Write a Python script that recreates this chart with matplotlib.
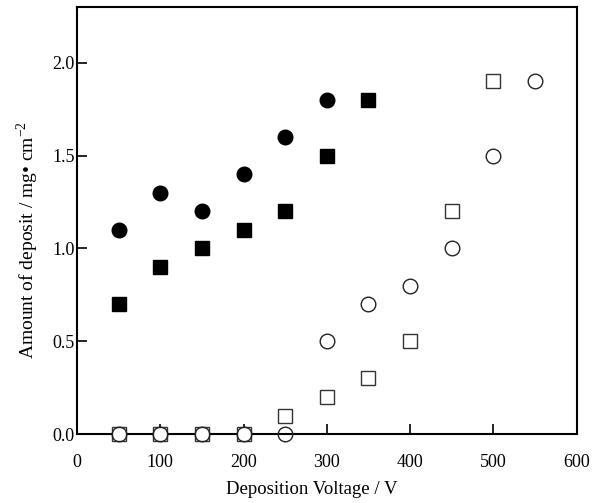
import matplotlib
matplotlib.use("Agg")
import matplotlib.pyplot as plt
from matplotlib.ticker import FormatStrFormatter

plt.rcParams['font.family'] = ['Liberation Serif', 'DejaVu Serif']
plt.rcParams['mathtext.fontset'] = 'custom'
plt.rcParams['mathtext.rm'] = 'Liberation Serif'

# filled circles
fc_x = [50, 100, 150, 200, 250, 300]
fc_y = [1.1, 1.3, 1.2, 1.4, 1.6, 1.8]
# filled squares
fs_x = [50, 100, 150, 200, 250, 300, 350]
fs_y = [0.7, 0.9, 1.0, 1.1, 1.2, 1.5, 1.8]
# open squares
os_x = [50, 100, 150, 200, 250, 300, 350, 400, 450, 500]
os_y = [0, 0, 0, 0, 0.1, 0.2, 0.3, 0.5, 1.2, 1.9]
# open circles
oc_x = [50, 100, 150, 200, 250, 300, 350, 400, 450, 500, 550]
oc_y = [0, 0, 0, 0, 0, 0.5, 0.7, 0.8, 1.0, 1.5, 1.9]

fig = plt.figure(figsize=(5.97, 5.03), dpi=100)
ax = fig.add_axes([0.129, 0.137, 0.837, 0.849])

ax.plot(os_x, os_y, 's', ms=10, mfc='white', mec='#333333', mew=1.0, ls='none', clip_on=False, zorder=3)
ax.plot(oc_x, oc_y, 'o', ms=10.5, mfc='none', mec='#222222', mew=1.0, ls='none', clip_on=False, zorder=4)
ax.plot(fs_x, fs_y, 's', ms=10, color='black', ls='none', zorder=5)
ax.plot(fc_x, fc_y, 'o', ms=10.5, color='black', ls='none', zorder=5)

ax.set_xlim(0, 600)
ax.set_ylim(0, 2.3)
ax.set_xticks([0, 100, 200, 300, 400, 500, 600])
ax.set_yticks([0.0, 0.5, 1.0, 1.5, 2.0])
ax.yaxis.set_major_formatter(FormatStrFormatter('%.1f'))
ax.tick_params(direction='in', length=7, width=1.2, labelsize=13,
               top=False, right=False)
ax.tick_params(axis='x', pad=14)
ax.tick_params(axis='y', pad=1.5)
for s in ax.spines.values():
    s.set_linewidth(1.5)

ax.set_xlabel('Deposition Voltage / V', fontsize=13.5)
ax.set_ylabel('Amount of deposit / mg\u2022 cm$^{-2}$', fontsize=14)
ax.xaxis.set_label_coords(0.47, -0.11)
ax.yaxis.set_label_coords(-0.073, 0.455)

fig.savefig('out.png', dpi=100)
